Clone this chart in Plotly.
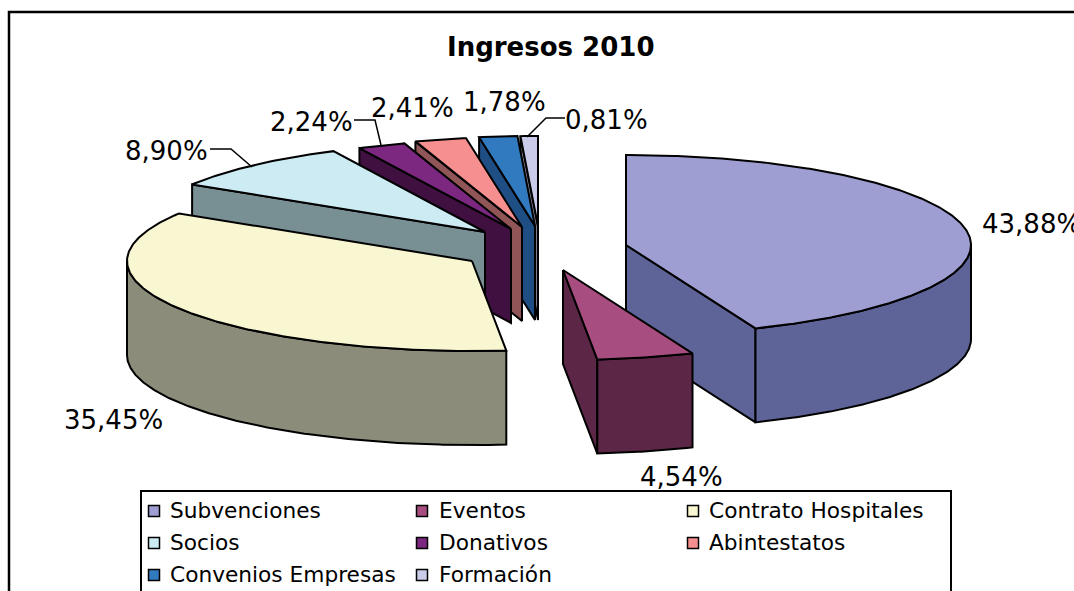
import numpy as np
import plotly.graph_objects as go

# ---- data ----
categories = ["Subvenciones", "Eventos", "Contrato Hospitales", "Socios",
              "Donativos", "Abintestatos", "Convenios Empresas", "Formación"]
values = [43.88, 4.54, 35.45, 8.90, 2.24, 2.41, 1.78, 0.81]
value_labels = ["43,88%", "4,54%", "35,45%", "8,90%", "2,24%", "2,41%", "1,78%", "0,81%"]
title_text = "Ingresos 2010"

# ---- style ----
top_colors = ["#9E9ED2", "#A84D80", "#F9F7D1", "#CCEBF3", "#7C2880", "#F69090", "#317ABF", "#C9CBE8"]
wall_colors = ["#5E6498", "#5C2647", "#8B8D7A", "#788F94", "#3F1040", "#8F5557", "#1F4E85", "#7E7F92"]

# ---- layout of the exploded tilted pie, in pixels ----
RX, RY, DEPTH = 345, 90, 94
apex_x = [626, 563, 472, 485, 511, 522, 535, 538]
apex_y = [245, 270, 261, 232, 229, 227, 226, 226]
paint_order = [7, 6, 5, 4, 3, 2, 0, 1]
label_x = [982, 640, 64, 125, 270, 371, 463, 565]
label_y = [224, 477, 420, 151, 122, 108, 102, 120]
leader_x = [[210, 231, 252], [354, 375, 381], [565, 546, 527]]
leader_y = [[149, 149, 167], [120, 120, 145], [118, 118, 137]]
legend_sw_x = [154, 422, 693]
legend_tx_x = [170, 439, 709]
legend_y = [511, 543, 575]
FONT = "DejaVu Sans"

fig = go.Figure()


def poly(xs, ys, color, width=2):
    fig.add_trace(go.Scatter(x=xs, y=ys, mode="lines", fill="toself", fillcolor=color,
                             line=dict(color="black", width=width),
                             hoverinfo="skip", showlegend=False))


def rim(cx, cy, a, b):
    n = max(2, int(abs(b - a) * 2))
    th = np.radians(np.linspace(a, b, n))
    return cx + RX * np.sin(th), cy - RY * np.cos(th)


edges = np.concatenate([[0], np.cumsum(values)]) / sum(values) * 360
for i in paint_order:
    a, b = edges[i], edges[i + 1]
    cx, cy = apex_x[i], apex_y[i]
    ax, ay = rim(cx, cy, a, b)
    # cut face at the start of the slice
    if np.sin(np.radians(a)) < -1e-6:
        poly([cx, ax[0], ax[0], cx, cx], [cy, ay[0], ay[0] + DEPTH, cy + DEPTH, cy], wall_colors[i])
    # cut face at the end of the slice
    if np.sin(np.radians(b)) > 1e-6:
        poly([cx, ax[-1], ax[-1], cx, cx], [cy, ay[-1], ay[-1] + DEPTH, cy + DEPTH, cy], wall_colors[i])
    # outer curved wall
    lo, hi = max(a, 90), min(b, 270)
    if hi > lo:
        wx, wy = rim(cx, cy, lo, hi)
        poly(list(wx) + list(wx[::-1]) + [wx[0]],
             list(wy) + list(wy[::-1] + DEPTH) + [wy[0]], wall_colors[i])
    # top face
    poly([cx] + list(ax) + [cx], [cy] + list(ay) + [cy], top_colors[i])

# leader lines
for lx, ly in zip(leader_x, leader_y):
    fig.add_trace(go.Scatter(x=lx, y=ly, mode="lines", line=dict(color="black", width=1.5),
                             hoverinfo="skip", showlegend=False))

annotations = [dict(x=550, y=47, text=f"<b>{title_text}</b>", showarrow=False, xref="x", yref="y",
                    font=dict(family=FONT, size=26, color="black"), xanchor="center", yanchor="middle")]
for t, x, y in zip(value_labels, label_x, label_y):
    annotations.append(dict(x=x, y=y, text=t, showarrow=False, xref="x", yref="y",
                            font=dict(family=FONT, size=26, color="black"),
                            xanchor="left", yanchor="middle", xshift=-2))

# legend
for k, name in enumerate(categories):
    col, row = k % 3, k // 3
    fig.add_trace(go.Scatter(x=[legend_sw_x[col]], y=[legend_y[row]], mode="markers",
                             marker=dict(symbol="square", size=11, color=top_colors[k],
                                         line=dict(color="black", width=1.5)),
                             hoverinfo="skip", showlegend=False))
    annotations.append(dict(x=legend_tx_x[col], y=legend_y[row] - 1, text=name, showarrow=False,
                            xref="x", yref="y", font=dict(family=FONT, size=21.7, color="black"),
                            xanchor="left", yanchor="middle", xshift=-2))

shapes = [
    dict(type="path", path="M 9 600 L 9 12 L 1080 12", xref="x", yref="y",
         line=dict(color="black", width=2.5)),
    dict(type="path", path="M 141 600 L 141 491 L 951 491 L 951 600", xref="x", yref="y",
         line=dict(color="black", width=2)),
]

fig.update_layout(
    width=1074, height=591, margin=dict(l=0, r=0, t=0, b=0),
    paper_bgcolor="white", plot_bgcolor="white",
    xaxis=dict(range=[0, 1074], visible=False, fixedrange=True),
    yaxis=dict(range=[591, 0], visible=False, fixedrange=True),
    annotations=annotations, shapes=shapes, showlegend=False,
)
fig.write_html("out.html", config=dict(displayModeBar=False),
               post_script="document.body.style.margin='0';document.body.style.overflow='hidden';")
